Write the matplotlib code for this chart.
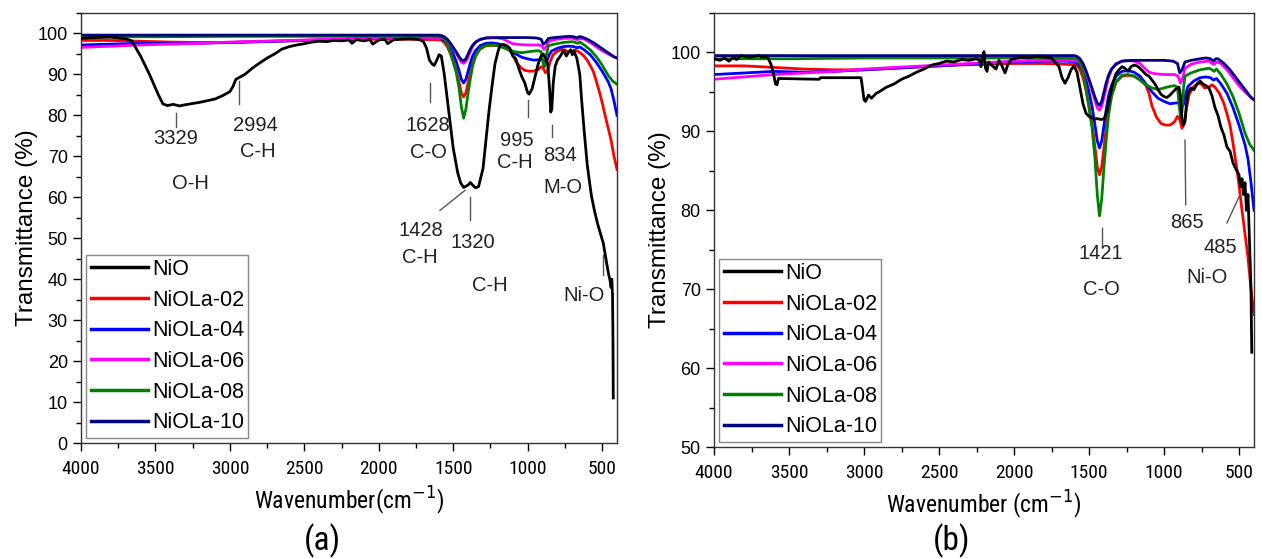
import matplotlib
matplotlib.use('Agg')
import matplotlib.pyplot as plt
from matplotlib.ticker import MultipleLocator, FixedLocator
from matplotlib import font_manager
from matplotlib.font_manager import FontProperties

plt.rcParams['font.family'] = ['Liberation Sans', 'DejaVu Sans']


def find_narrow():
    prefs = ['Liberation Sans Narrow', 'Roboto Condensed', 'Open Sans Condensed',
             'DejaVu Sans Condensed', 'Noto Sans Condensed']
    cands = []
    for f in font_manager.fontManager.ttflist:
        if f.style != 'normal':
            continue
        if f.weight not in (400, 'normal', 'regular'):
            continue
        if 'Narrow' in f.name or 'Condensed' in f.name or f.stretch in ('condensed', 'semi-condensed'):
            if 'Bold' in f.fname or 'Italic' in f.fname or 'Oblique' in f.fname:
                continue
            cands.append(f)
    for p in prefs:
        for f in cands:
            if f.name == p or p.replace(' ', '') in f.fname.replace(' ', ''):
                return f.fname
    return cands[0].fname if cands else None


narrow_path = find_narrow()


def nprops(size):
    if narrow_path:
        return FontProperties(fname=narrow_path, size=size)
    return FontProperties(family='Liberation Sans', size=size * 0.85)


# ---------------- data ----------------
series_names = ['NiO', 'NiOLa-02', 'NiOLa-04', 'NiOLa-06', 'NiOLa-08', 'NiOLa-10']
series_colors = ['#000000', '#ff0000', '#0000ff', '#ff00ff', '#008000', '#000080']

# NiO, panel (a)
nio_a_w = [4000, 3900, 3800, 3750, 3700, 3660, 3600, 3540, 3480, 3450, 3420, 3380, 3340, 3300, 3250,
           3200, 3150, 3100, 3050, 3000, 2980, 2960, 2940, 2900, 2850, 2800, 2750, 2700, 2650, 2600,
           2550, 2500, 2450, 2400, 2350, 2300, 2250, 2200, 2180, 2150, 2100, 2060, 2040, 2000, 1960,
           1940, 1900, 1850, 1800, 1750, 1720, 1700, 1680, 1660, 1640, 1628, 1610, 1595, 1580, 1560,
           1530, 1500, 1470, 1450, 1430, 1400, 1385, 1370, 1350, 1330, 1300, 1280, 1260, 1240, 1220,
           1200, 1185, 1160, 1140, 1120, 1100, 1090, 1080, 1060, 1040, 1020, 1000, 990, 970, 950,
           930, 910, 895, 880, 865, 852, 845, 838, 828, 815, 800, 780, 760, 740, 725, 710, 700,
           690, 670, 650, 637, 620, 600, 580, 570, 550, 530, 510, 492, 470, 455, 447, 440, 435,
           430, 427, 425]
nio_a_t = [98.8, 99.0, 99.1, 98.9, 98.7, 98.2, 94.5, 90.0, 85.0, 82.8, 82.4, 82.7, 82.3, 82.6, 82.9,
           83.2, 83.6, 84.0, 84.8, 85.8, 87.0, 88.8, 89.2, 90.0, 91.5, 92.8, 94.0, 95.0, 96.2, 96.8,
           97.2, 97.5, 97.9, 98.1, 98.0, 98.3, 98.2, 98.4, 97.6, 98.5, 98.2, 98.5, 97.4, 98.4, 98.6,
           97.5, 98.5, 98.6, 98.7, 98.6, 98.4, 98.0, 96.5, 93.5, 92.5, 92.2, 93.5, 94.8, 94.5, 90.0,
           81.0, 72.0, 66.0, 63.5, 62.4, 63.0, 63.6, 63.0, 62.3, 62.6, 67.0, 74.0, 81.0, 87.0, 92.5,
           95.5, 97.2, 97.3, 97.0, 96.4, 94.5, 94.2, 93.8, 91.5, 89.5, 88.0, 85.5, 85.2, 86.5, 89.5,
           92.5, 94.5, 95.0, 94.0, 92.5, 86.0, 80.8, 81.5, 88.0, 92.0, 93.5, 94.5, 95.8, 94.5, 95.5,
           96.0, 94.8, 95.8, 94.0, 90.0, 83.5, 76.0, 68.0, 62.5, 60.0, 56.5, 53.5, 51.0, 48.8, 44.0,
           41.0, 39.8, 38.0, 40.0, 36.0, 25.0, 11.0]

# NiO, panel (b)
nio_b_w = [4000, 3960, 3930, 3900, 3870, 3850, 3820, 3800, 3760, 3730, 3700, 3680, 3660, 3640, 3620,
           3600, 3590, 3580, 3570, 3300, 3290, 3020, 3010, 3000, 2990, 2970, 2950, 2920, 2900, 2850,
           2800, 2750, 2700, 2650, 2600, 2550, 2500, 2450, 2400, 2350, 2300, 2250, 2230, 2220, 2210,
           2200, 2190, 2180, 2170, 2150, 2120, 2100, 2080, 2060, 2040, 2020, 2000, 1950, 1900, 1850,
           1800, 1750, 1700, 1680, 1660, 1640, 1620, 1600, 1580, 1560, 1540, 1520, 1500, 1480, 1460,
           1440, 1420, 1400, 1380, 1360, 1340, 1320, 1300, 1280, 1260, 1240, 1220, 1200, 1180, 1160,
           1140, 1120, 1100, 1080, 1060, 1040, 1020, 1000, 980, 960, 940, 920, 900, 890, 880, 870,
           860, 850, 840, 820, 800, 780, 760, 740, 720, 700, 680, 660, 640, 620, 600, 580, 560, 540,
           520, 500, 490, 480, 470, 460, 450, 440, 430, 420, 415]
nio_b_t = [99.2, 99.0, 99.3, 98.9, 99.4, 99.1, 99.6, 99.5, 99.4, 99.5, 99.6, 99.4, 99.5, 99.3, 98.5,
           97.0, 96.0, 95.9, 96.7, 96.6, 96.8, 96.8, 95.5, 94.0, 93.8, 94.6, 94.2, 94.8, 95.0, 95.6,
           96.0, 96.6, 97.0, 97.5, 97.9, 98.4, 98.6, 98.9, 98.8, 99.1, 99.0, 99.2, 99.0, 98.2, 99.3,
           100.1, 98.0, 97.6, 98.8, 98.4, 97.9, 99.0, 98.3, 97.4, 98.5, 99.1, 99.2, 99.4, 99.3, 99.5,
           99.4, 99.3, 98.2, 96.8, 96.1, 96.8, 97.8, 98.3, 97.5, 95.5, 93.5, 92.3, 91.9, 91.7, 91.6,
           91.6, 91.5, 91.6, 92.5, 94.5, 96.2, 97.3, 97.8, 98.2, 98.0, 97.6, 98.2, 98.4, 98.3, 98.0,
           97.6, 97.2, 97.0, 96.5, 96.0, 95.3, 94.7, 94.4, 94.3, 94.6, 95.0, 95.4, 95.6, 94.5, 91.5, 90.8,
           91.2, 93.5, 94.8, 95.5, 95.3, 96.0, 96.4, 96.0, 95.8, 95.5, 94.5, 93.0, 92.0, 90.5, 89.5,
           88.0, 87.5, 86.0, 85.2, 84.5, 83.0, 84.0, 82.0, 83.5, 80.0, 82.0, 76.0, 70.0, 62.0]

# NiOLa samples (same spectra in both panels)
la02_w = [4000, 3800, 3600, 3400, 3200, 3000, 2800, 2600, 2400, 2200, 2000, 1800, 1650, 1580, 1560,
          1540, 1520, 1500, 1480, 1460, 1445, 1430, 1415, 1400, 1385, 1370, 1350, 1320, 1280, 1240,
          1200, 1160, 1120, 1100, 1080, 1050, 1020, 990, 960, 930, 910, 895, 880, 865, 850, 830, 800,
          770, 750, 730, 700, 680, 660, 630, 600, 580, 560, 540, 520, 500, 480, 460, 440, 420, 400]
la02_t = [98.3, 98.3, 98.1, 97.9, 97.8, 97.8, 98.0, 98.2, 98.4, 98.5, 98.6, 98.6, 98.5, 98.4, 97.8,
          96.8, 95.2, 93.2, 91.0, 88.0, 85.5, 84.5, 85.5, 88.0, 90.5, 92.5, 94.5, 96.2, 97.0, 97.1,
          97.0, 96.6, 95.8, 94.8, 93.2, 91.8, 91.0, 90.8, 90.8, 91.2, 91.9, 91.5, 90.4, 91.0, 93.0,
          94.8, 95.7, 96.1, 96.0, 95.5, 95.6, 95.9, 95.6, 94.8, 93.5, 92.2, 90.8, 88.5, 86.0, 83.2,
          80.0, 77.0, 74.0, 70.0, 66.8]

la04_w = [4000, 3800, 3600, 3400, 3200, 3000, 2800, 2600, 2400, 2200, 2000, 1800, 1650, 1580, 1560,
          1540, 1520, 1500, 1480, 1460, 1445, 1430, 1415, 1400, 1385, 1370, 1350, 1320, 1280, 1240,
          1200, 1160, 1120, 1080, 1040, 1000, 960, 920, 900, 885, 870, 855, 840, 800, 760, 720, 690,
          670, 650, 620, 580, 540, 500, 460, 440, 420, 400]
la04_t = [97.2, 97.4, 97.6, 97.5, 97.6, 97.8, 98.0, 98.2, 98.4, 98.6, 98.8, 98.9, 98.9, 98.7, 98.3,
          97.6, 96.5, 95.0, 93.2, 90.8, 88.8, 87.9, 88.8, 90.8, 92.8, 94.5, 95.8, 97.0, 97.6, 97.7,
          97.5, 97.0, 96.0, 95.0, 94.2, 93.8, 93.5, 93.6, 93.6, 93.0, 93.4, 94.8, 95.7, 96.4, 96.8,
          96.9, 96.8, 96.5, 96.7, 96.0, 94.8, 93.0, 90.8, 88.3, 86.5, 83.5, 80.0]

la06_w = [4000, 3800, 3600, 3400, 3200, 3000, 2800, 2600, 2400, 2200, 2000, 1800, 1650, 1580, 1560,
          1540, 1520, 1500, 1480, 1460, 1445, 1430, 1415, 1400, 1385, 1370, 1350, 1320, 1280, 1240,
          1200, 1160, 1130, 1100, 1060, 1000, 930, 905, 890, 875, 860, 820, 760, 700, 680, 665, 650,
          620, 580, 540, 500, 460, 420, 400]
la06_t = [96.6, 96.9, 97.2, 97.4, 97.6, 97.9, 98.1, 98.3, 98.5, 98.7, 98.9, 99.0, 99.0, 98.9, 98.7,
          98.2, 97.4, 96.4, 95.2, 93.9, 93.0, 92.7, 93.2, 94.3, 95.6, 96.8, 97.8, 98.6, 98.9, 99.0,
          98.9, 98.6, 98.0, 97.5, 97.3, 97.2, 97.2, 97.0, 96.1, 96.8, 98.0, 98.5, 98.8, 98.9, 98.6,
          98.5, 98.8, 98.6, 97.8, 96.8, 95.8, 95.0, 94.3, 94.0]

la08_w = [4000, 3500, 3000, 2500, 2000, 1650, 1580, 1560, 1540, 1520, 1500, 1480, 1460, 1445, 1430,
          1415, 1400, 1385, 1370, 1350, 1320, 1280, 1240, 1200, 1160, 1120, 1080, 1040, 1000, 960,
          930, 910, 900, 890, 880, 870, 860, 820, 760, 700, 680, 665, 650, 620, 580, 540, 500, 460,
          430, 400]
la08_t = [99.2, 99.2, 99.3, 99.3, 99.3, 99.3, 99.2, 98.7, 97.5, 95.5, 93.0, 90.5, 86.5, 82.0, 79.3,
          81.5, 85.5, 89.0, 92.0, 94.5, 96.3, 97.1, 97.2, 97.0, 96.5, 95.9, 95.5, 95.3, 95.5, 95.7,
          95.8, 95.6, 93.5, 91.8, 92.5, 95.5, 97.0, 97.4, 97.8, 98.0, 97.8, 97.6, 97.9, 97.2, 96.0,
          94.4, 92.3, 89.8, 88.4, 87.6]

la10_w = [4000, 3500, 3000, 2500, 2000, 1600, 1580, 1560, 1540, 1520, 1500, 1480, 1460, 1445, 1430,
          1415, 1400, 1385, 1370, 1350, 1320, 1280, 1200, 1100, 1000, 940, 910, 895, 880, 860, 820,
          760, 720, 690, 670, 655, 640, 600, 560, 520, 480, 440, 420, 400]
la10_t = [99.6, 99.6, 99.6, 99.6, 99.6, 99.6, 99.5, 99.2, 98.6, 97.7, 96.6, 95.5, 94.3, 93.6, 93.3,
          93.8, 95.0, 96.2, 97.1, 97.9, 98.5, 98.9, 99.0, 99.0, 99.0, 98.9, 98.6, 97.4, 97.8, 98.8,
          99.0, 99.2, 99.3, 99.2, 98.9, 99.2, 99.2, 98.6, 97.8, 96.8, 95.8, 94.8, 94.3, 94.0]

la_w = [la02_w, la04_w, la06_w, la08_w, la10_w]
la_t = [la02_t, la04_t, la06_t, la08_t, la10_t]

# peak annotations: (label, x, y)
ann_a = [('3329', 3362, 74.4), ('O-H', 3268, 63.4), ('2994', 2831, 77.6), ('C-H', 2811, 71.2),
         ('1628', 1669, 77.6), ('C-O', 1669, 71.0), ('995', 1072, 73.9), ('C-H', 1085, 68.5),
         ('834', 783, 70.2), ('M-O', 765, 62.4), ('1428', 1716, 52.0), ('C-H', 1723, 45.4),
         ('1320', 1367, 49.0), ('C-H', 1253, 38.5), ('Ni-O', 622, 35.9)]
ann_a_lines = [((3362, 3362), (80.7, 77.1)), ((2939, 2939), (88.5, 82.9)), ((1656, 1656), (88.0, 83.2)),
               ((998, 998), (83.7, 79.5)), ((837, 837), (77.6, 74.6)), ((1589, 1421), (56.8, 61.7)),
               ((1387, 1387), (60.0, 54.4)), ((494, 494), (45.9, 41.0))]
ann_b = [('1421', 1420, 74.5), ('C-O', 1420, 69.9), ('865', 847, 78.5), ('485', 627, 75.3),
         ('Ni-O', 713, 71.5)]
ann_b_lines = [((1413, 1413), (77.8, 75.5)), ((860, 855), (88.9, 80.7)), ((580, 500), (78.4, 81.7))]

# ---------------- figure ----------------
fig = plt.figure(figsize=(12.62, 5.59), dpi=100)
axa = fig.add_axes([81 / 1262, 1 - 443 / 559, 536 / 1262, 430 / 559])
axb = fig.add_axes([714 / 1262, 1 - 447 / 559, 540 / 1262, 434 / 559])

nio_data = {axa: (nio_a_w, nio_a_t), axb: (nio_b_w, nio_b_t)}

for ax in (axa, axb):
    w0, t0 = nio_data[ax]
    ax.plot(w0, t0, color=series_colors[0], lw=2.0, label=series_names[0], zorder=3)
    for i in range(5):
        ax.plot(la_w[i], la_t[i], color=series_colors[i + 1], lw=2.0,
                label=series_names[i + 1], zorder=2)
    ax.set_xlim(4000, 400)
    ax.xaxis.set_major_locator(FixedLocator([4000, 3500, 3000, 2500, 2000, 1500, 1000, 500]))
    ax.xaxis.set_minor_locator(FixedLocator([3750, 3250, 2750, 2250, 1750, 1250, 750]))
    ax.yaxis.set_minor_locator(MultipleLocator(5))
    ax.tick_params(which='major', direction='out', length=6, width=1.0, labelsize=13)
    ax.tick_params(which='minor', direction='out', length=3.5, width=1.0)
    ax.tick_params(axis='x', which='major', pad=6)
    for s in ax.spines.values():
        s.set_linewidth(1.0)
        s.set_color('#333333')
    ax.set_ylabel('Transmittance (%)', fontsize=17.5, labelpad=0)
    leg = ax.legend(loc='lower left', fontsize=15.5, frameon=True, fancybox=False,
                    edgecolor='#888888', framealpha=1, handlelength=2.65, handletextpad=0.2,
                    labelspacing=0.45, borderpad=0.2, borderaxespad=0.25)
    leg.get_frame().set_linewidth(1.0)
    for h in leg.get_lines():
        h.set_linewidth(2.5)

axa.set_ylim(0, 105)
axa.set_yticks(range(0, 101, 10))
axb.set_ylim(50, 105)
axb.set_yticks(range(50, 101, 10))

fig.canvas.draw()
for ax in (axa, axb):
    for lab in ax.get_xticklabels():
        lab.set_fontproperties(nprops(14))

axa.set_xlabel('Wavenumber(cm$^{-1}$)', fontproperties=nprops(17), labelpad=5)
axb.set_xlabel('Wavenumber (cm$^{-1}$)', fontproperties=nprops(17), labelpad=5)

for ax, anns, lines in ((axa, ann_a, ann_a_lines), (axb, ann_b, ann_b_lines)):
    for txt, x, y in anns:
        ax.text(x, y, txt, ha='center', va='center', fontsize=14.5, color='#222222')
    for xs, ys in lines:
        ax.plot(xs, ys, color='#555555', lw=1.0)

fig.text(322 / 1262, 1 - 541 / 559, '(a)', ha='center', va='center', fontproperties=nprops(24))
fig.text(952 / 1262, 1 - 541 / 559, '(b)', ha='center', va='center', fontproperties=nprops(24))

fig.savefig('out.png', dpi=100)
